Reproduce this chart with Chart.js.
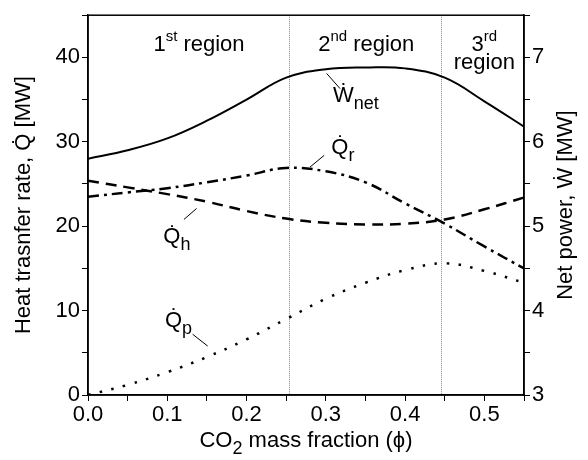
<!DOCTYPE html>
<html>
<head>
<meta charset="utf-8">
<script src="https://cdn.jsdelivr.net/npm/chart.js@4"></script>
<style>
html,body{margin:0;padding:0;background:#fff;}
#wrap{width:588px;height:460px;position:relative;}
</style>
</head>
<body>
<div id="wrap"><canvas id="c" width="588" height="460"></canvas></div>
<script>
// ---- data ----
const phi  = [0, 0.05, 0.10, 0.15, 0.20, 0.25, 0.30, 0.35, 0.40, 0.45, 0.50, 0.55];
const wNet = [5.80, 5.90, 6.04, 6.25, 6.50, 6.76, 6.86, 6.88, 6.87, 6.76, 6.48, 6.18]; // MW (right axis)
const qH   = [25.4, 24.6, 23.8, 22.9, 21.8, 20.9, 20.4, 20.2, 20.3, 20.8, 22.0, 23.4];
const qR   = [23.5, 24.0, 24.5, 25.2, 26.0, 26.9, 26.5, 25.2, 22.7, 20.3, 17.6, 15.0];
const qP   = [0.0, 1.2, 2.7, 4.5, 6.6, 9.0, 11.4, 13.3, 14.8, 15.6, 14.7, 13.3];
const regionBounds = [0.253, 0.445];
const xTickLabels = ['0.0','0.1','0.2','0.3','0.4','0.5'];
const leftTickLabels = ['0','10','20','30','40'];
const rightTickLabels = ['3','4','5','6','7'];

const FONT = '"Liberation Sans", Arial, sans-serif';
const pts = arr => arr.map((v,i)=>({x:phi[i], y:v}));

function isMult(v, step){ return Math.abs(v/step - Math.round(v/step)) < 1e-6; }

const annots = [
  {runs:[['Ẇ',0],['net',1]], x:0.309, y:34.7, line:[0.301,38.1,0.318,36.3]},
  {runs:[['Q̇',0],['r',1]],   x:0.307, y:28.6, line:[0.298,28.4,0.280,27.0]},
  {runs:[['Q̇',0],['h',1]],   x:0.095, y:18.0, line:[0.121,20.8,0.137,22.1]},
  {runs:[['Q̇',0],['p',1]],   x:0.097, y:8.1,  line:[0.132,7.2,0.151,5.8]}
];
const regionTexts = [
  {runs:[['1',0],['st',2],[' region',0]], x:0.140, y:40.8},
  {runs:[['2',0],['nd',2],[' region',0]], x:0.351, y:40.8},
  {runs:[['3',0],['rd',2]], x:0.5, y:40.8},
  {runs:[['region',0]], x:0.5, y:38.6}
];

function subSize(k, size){ return k===1 ? Math.round(size*0.82) : (k===2 ? Math.round(size*0.68) : size); }
function runsWidth(ctx, runs, size){
  let w=0;
  for(const [t,k] of runs){
    ctx.font = subSize(k,size)+'px '+FONT;
    w += ctx.measureText(t).width;
  }
  return w;
}
function drawRuns(ctx, runs, x, y, size, align){
  let w = runsWidth(ctx, runs, size);
  let cx = align==='center' ? x - w/2 : x;
  ctx.textAlign='left'; ctx.textBaseline='alphabetic';
  for(const [t,k] of runs){
    ctx.font = subSize(k,size)+'px '+FONT;
    const dy = k===1 ? 7 : (k===2 ? -size*0.42 : 0);
    ctx.fillText(t, cx, y+dy);
    cx += ctx.measureText(t).width;
  }
}

const decor = {
  id:'decor',
  beforeDatasetsDraw(chart){
    const {ctx, chartArea:a, scales:{x}} = chart;
    ctx.save();
    ctx.strokeStyle='#888'; ctx.lineWidth=1; ctx.setLineDash([1,1]);
    for(const b of regionBounds){
      const px = Math.round(x.getPixelForValue(b))+0.5;
      ctx.beginPath(); ctx.moveTo(px,a.top); ctx.lineTo(px,a.bottom); ctx.stroke();
    }
    ctx.restore();
  },
  afterDraw(chart){
    const {ctx, chartArea:a, scales:{x,y}} = chart;
    ctx.save();
    ctx.strokeStyle='#000'; ctx.lineWidth=1.5;
    ctx.strokeRect(a.left, a.top, a.right-a.left, a.bottom-a.top);
    ctx.fillStyle='#000';
    for(const r of regionTexts){
      drawRuns(ctx, r.runs, x.getPixelForValue(r.x), y.getPixelForValue(r.y), 22, 'center');
    }
    ctx.lineWidth=1;
    for(const an of annots){
      drawRuns(ctx, an.runs, x.getPixelForValue(an.x), y.getPixelForValue(an.y), 22, 'left');
      const l=an.line;
      ctx.beginPath();
      ctx.moveTo(x.getPixelForValue(l[0]), y.getPixelForValue(l[1]));
      ctx.lineTo(x.getPixelForValue(l[2]), y.getPixelForValue(l[3]));
      ctx.stroke();
    }
    // axis titles
    ctx.font='22px '+FONT; ctx.textAlign='center'; ctx.textBaseline='middle';
    ctx.save(); ctx.translate(24,(a.top+a.bottom)/2); ctx.rotate(-Math.PI/2);
    ctx.fillText('Heat trasnfer rate, Q̇ [MW]',0,0); ctx.restore();
    ctx.save(); ctx.translate(566,(a.top+a.bottom)/2); ctx.rotate(-Math.PI/2);
    ctx.fillText('Net power, Ẇ [MW]',0,0); ctx.restore();
    drawRuns(ctx, [['CO',0],['2',1],[' mass fraction (ϕ)',0]], (a.left+a.right)/2, 447, 22, 'center');
    ctx.restore();
  }
};

const tickGrid = {drawOnChartArea:false, drawTicks:true, tickLength:6, tickColor:'#000', tickWidth:1};
const tickFont = {family:FONT, size:22};

new Chart(document.getElementById('c'), {
  type:'line',
  data:{datasets:[
    {label:'Wnet', data:pts(wNet), yAxisID:'y2', borderColor:'#000', borderWidth:2, pointRadius:0, tension:0.4, fill:false},
    {label:'Qh', data:pts(qH), yAxisID:'y', borderColor:'#000', borderWidth:2.5, borderDash:[11,7], pointRadius:0, tension:0.4, fill:false},
    {label:'Qr', data:pts(qR), yAxisID:'y', borderColor:'#000', borderWidth:2.5, borderDash:[11,5,3,5], pointRadius:0, tension:0.4, fill:false},
    {label:'Qp', data:pts(qP), yAxisID:'y', borderColor:'#000', borderWidth:2.5, borderDash:[2.5,9.5], pointRadius:0, tension:0.4, fill:false}
  ]},
  options:{
    responsive:false, animation:false, devicePixelRatio:1,
    layout:{padding:{top:8,left:0,right:0,bottom:0}},
    plugins:{legend:{display:false}, tooltip:{enabled:false}},
    scales:{
      x:{type:'linear', min:0, max:0.55,
        afterFit(s){ s.height = 65; },
        ticks:{stepSize:0.05, autoSkip:false, maxRotation:0, color:'#000', font:tickFont, padding:1,
          callback:v=> isMult(v,0.1) ? xTickLabels[Math.round(v*10)] : ''},
        grid:tickGrid, border:{display:true,color:'#000',width:1.5}},
      y:{position:'left', min:0, max:45,
        afterFit(s){ s.width = 88; },
        ticks:{stepSize:5, autoSkip:false, color:'#000', font:tickFont, padding:2,
          callback:v=> isMult(v,10) ? leftTickLabels[Math.round(v/10)] : ''},
        grid:tickGrid, border:{display:true,color:'#000',width:1.5}},
      y2:{position:'right', min:3, max:7.5,
        afterFit(s){ s.width = 64; },
        ticks:{stepSize:0.5, autoSkip:false, color:'#000', font:tickFont, padding:2,
          callback:v=> isMult(v,1) ? rightTickLabels[Math.round(v-3)] : ''},
        grid:tickGrid, border:{display:true,color:'#000',width:1.5}}
    }
  },
  plugins:[decor]
});
</script>
</body>
</html>
